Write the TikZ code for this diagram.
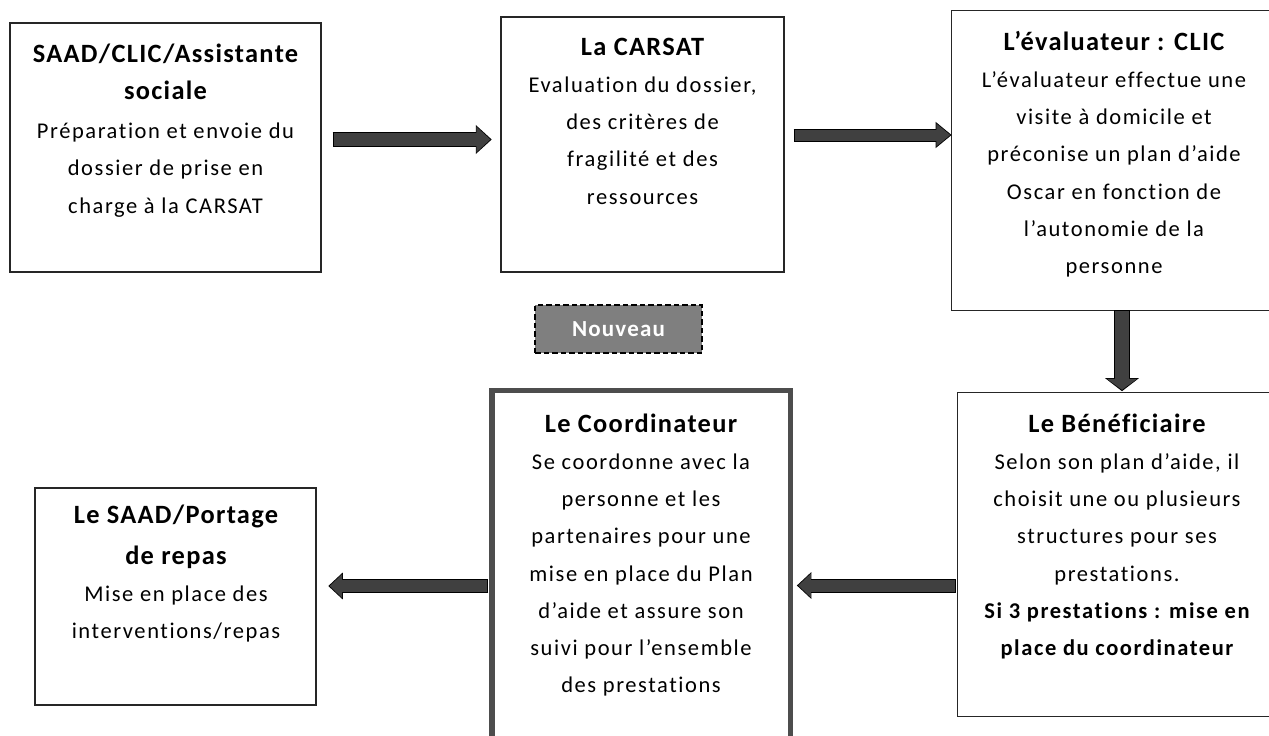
\documentclass[tikz,border=0pt]{standalone}
\usepackage{fontspec}
\setmainfont{Carlito}
\newfontfamily\bodyfont{Carlito}[LetterSpace=7,Ligatures={NoCommon}]
\newfontfamily\headfont{Carlito}[LetterSpace=5,Ligatures={NoCommon}]
\usetikzlibrary{arrows.meta,calc}
\definecolor{arrowgray}{HTML}{404040}
\definecolor{boxline}{HTML}{262626}
\definecolor{coordline}{HTML}{4D4D4D}
\definecolor{newgray}{HTML}{7F7F7F}
\newcommand\ttl[1]{{\headfont\bfseries\fontsize{26.4}{37.2}\selectfont #1}}
\newcommand\bld[1]{{\bodyfont\bfseries #1}}
\newcommand\firststrut{\rule{0pt}{30pt}}
\begin{document}
\begin{tikzpicture}[x=1pt,y=-1pt,
  box/.style={draw=boxline, line width=1.3pt, inner sep=0pt},
  openbox/.style={inner sep=0pt},
  edge/.style={draw=boxline, line width=1.3pt},
  boxtext/.style={anchor=north, inner sep=0pt, align=center, font=\bodyfont\fontsize{22.5}{37.2}\selectfont},
  barrow/.style n args={3}{draw=arrowgray, line width=#1, -{Triangle[length=#2,width=#3]},
    preaction={draw=black, line width=#1+2pt, shorten >=-1.4pt, shorten <=-1pt, -{Triangle[length=#2+2pt,width=#3+3pt]}}}
]
\useasboundingbox (0,0) rectangle (1269,736);
\clip (0,0) rectangle (1269,736);
\fill[white] (0,0) rectangle (1269,736);

% boxes
\node[box, minimum width=311pt, minimum height=249pt] (b1) at (165.5,147.5) {};
\node[box, minimum width=283pt, minimum height=255pt] (b2) at (642.5,144.5) {};
\node[openbox, minimum width=360pt, minimum height=299pt] (b3) at (1132,160.5) {};
\draw[edge] (b3.north east) -- (b3.north west) -- (b3.south west) -- (b3.south east);
\node[openbox, minimum width=360pt, minimum height=323pt] (b4) at (1138,554.5) {};
\draw[edge] (b4.north east) -- (b4.north west) -- (b4.south west) -- (b4.south east);
\node[draw=coordline, line width=5.5pt, inner sep=0pt, minimum width=298.5pt, minimum height=369.5pt] (bc) at (641.25,575.25) {};
\node[box, minimum width=281pt, minimum height=217pt] (bs) at (175.5,596.5) {};
\node[draw=black, line width=1.8pt, dash pattern=on 5.5pt off 3pt, fill=newgray, inner sep=0pt,
      minimum width=167pt, minimum height=48pt, text=white,
      font=\headfont\bfseries\fontsize{23}{26}\selectfont] (nv) at (618.5,329) {Nouveau};

% texts
\node[boxtext] (t1) at (165.5,32) {\firststrut\ttl{SAAD/CLIC/Assistante}\\ \ttl{sociale}\\[2pt]
  Préparation et envoie du\\ dossier de prise en\\ charge à la CARSAT};
\node[boxtext] (t2) at (642.5,25) {\firststrut\ttl{La CARSAT}\\ Evaluation du dossier,\\ des critères de\\
  fragilité et des\\ ressources};
\node[boxtext] (t3) at (1114,20) {\firststrut\ttl{L’évaluateur : CLIC}\\ L’évaluateur effectue une\\
  visite à domicile et\\ préconise un plan d’aide\\ Oscar en fonction de\\ l’autonomie de la\\ personne};
\node[boxtext] (t4) at (1117,402) {\firststrut\ttl{Le Bénéficiaire}\\ Selon son plan d’aide, il\\
  choisit une ou plusieurs\\ structures pour ses\\ prestations.\\ \bld{Si 3 prestations : mise en}\\
  \bld{place du coordinateur}};
\node[boxtext] (tc) at (641,402) {\firststrut\ttl{Le Coordinateur}\\ Se coordonne avec la\\ personne et les\\
  partenaires pour une\\ mise en place du Plan\\ d’aide et assure son\\ suivi pour l’ensemble\\ des prestations};
\node[boxtext] (ts) at (176,493) {\firststrut\ttl{Le SAAD/Portage}\\[4pt] \ttl{de repas}\\ Mise en place des\\
  interventions/repas};

% arrows
\draw[barrow={13pt}{14pt}{25pt}] ($(b1.east |- 0,139.5)+(12,0)$) -- ($(b2.west |- 0,139.5)+(-10,0)$);
\draw[barrow={11pt}{14pt}{22pt}] ($(b2.east |- 0,135)+(10,0)$) -- ($(b3.west |- 0,135)+(-1.5,0)$);
\draw[barrow={14pt}{11pt}{30pt}] ($(b3.south -| 1122,0)+(0,1)$) -- ($(b4.north -| 1122,0)+(0,-3)$);
\draw[barrow={12pt}{12.5pt}{23pt}] ($(b4.west |- 0,585.5)+(-3,0)$) -- ($(bc.east |- 0,585.5)+(5,0)$);
\draw[barrow={12pt}{12.5pt}{23pt}] ($(bc.west |- 0,586)+(-2,0)$) -- ($(bs.east |- 0,586)+(13,0)$);
\end{tikzpicture}
\end{document}
